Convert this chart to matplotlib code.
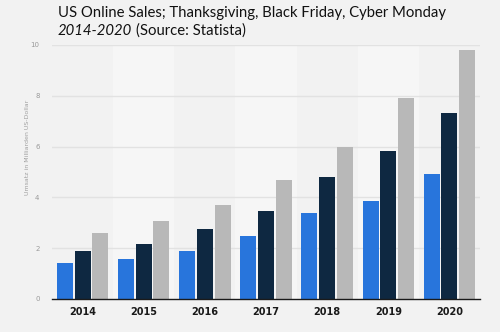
import matplotlib
matplotlib.use("Agg")
import matplotlib.pyplot as plt
import numpy as np

years = ["2014", "2015", "2016", "2017", "2018", "2019", "2020"]
thanksgiving = [1.42, 1.57, 1.89, 2.49, 3.38, 3.84, 4.92]
black_friday = [1.89, 2.18, 2.77, 3.48, 4.79, 5.83, 7.32]
cyber_monday = [2.60, 3.08, 3.69, 4.68, 6.00, 7.90, 9.80]
y_ticks = [0, 2, 4, 6, 8, 10]

colors = ["#2875dc", "#0e2841", "#b8b8b8"]

fig = plt.figure(figsize=(5.0, 3.32), dpi=100)
fig.patch.set_facecolor("#f2f2f2")
ax = fig.add_axes([0.104, 0.0994, 0.856, 0.7651])
ax.set_facecolor("#f2f2f2")

x = np.arange(len(years))
# alternating column shading behind the groups
for i in x:
    shade = "#f6f6f6" if i % 2 == 1 else "#f2f2f2"
    ax.axvspan(i - 0.5, i + 0.5, color=shade, zorder=0, lw=0)

for yv in y_ticks[1:]:
    ax.axhline(yv, color="#e2e2e2", lw=1.0, zorder=1)

w = 0.26
off = 0.29
ax.bar(x - off, thanksgiving, w, color=colors[0], zorder=3)
ax.bar(x, black_friday, w, color=colors[1], zorder=3)
ax.bar(x + off, cyber_monday, w, color=colors[2], zorder=3)

ax.set_xlim(-0.5, len(years) - 0.5)
ax.set_ylim(0, 10)
ax.set_xticks(x)
ax.set_xticklabels(years, fontsize=7, color="#1a1a1a", fontweight="semibold")
ax.set_yticks(y_ticks)
ax.set_yticklabels([str(v) for v in y_ticks], fontsize=5, color="#9a9a9a")
ax.tick_params(axis="x", length=0, pad=6)
ax.tick_params(axis="y", length=0, pad=9)

for s in ["top", "right", "left"]:
    ax.spines[s].set_visible(False)
ax.spines["bottom"].set_color("#1a1a1a")
ax.spines["bottom"].set_linewidth(1.0)
ax.spines["bottom"].set_zorder(4)

fig.text(0.056, 0.557, "Umsatz in Milliarden US-Dollar", rotation=90,
         fontsize=4.5, color="#a0a0a0", ha="center", va="center")

title_font = "Lato"
title_size = 12.5
t0 = fig.text(0.116, 0.948, "US Online Sales; Thanksgiving, Black Friday, Cyber Monday",
              fontsize=title_size, family=title_font, color="#111111",
              ha="left", va="baseline")
fig.canvas.draw()
# shrink the title so the first line spans about 389 px
width = t0.get_window_extent().width
title_size = title_size * 389.0 / width
t0.set_fontsize(title_size)

t1 = fig.text(0.116, 0.894, "2014-2020", fontsize=title_size, family=title_font,
              style="italic", color="#111111", ha="left", va="baseline")
fig.canvas.draw()
bb = t1.get_window_extent()
fig.text(bb.x1 / fig.bbox.width + 0.008, 0.894, "(Source: Statista)", fontsize=title_size,
         family=title_font, color="#111111", ha="left", va="baseline")

fig.savefig("out.png", dpi=100, facecolor=fig.get_facecolor())
